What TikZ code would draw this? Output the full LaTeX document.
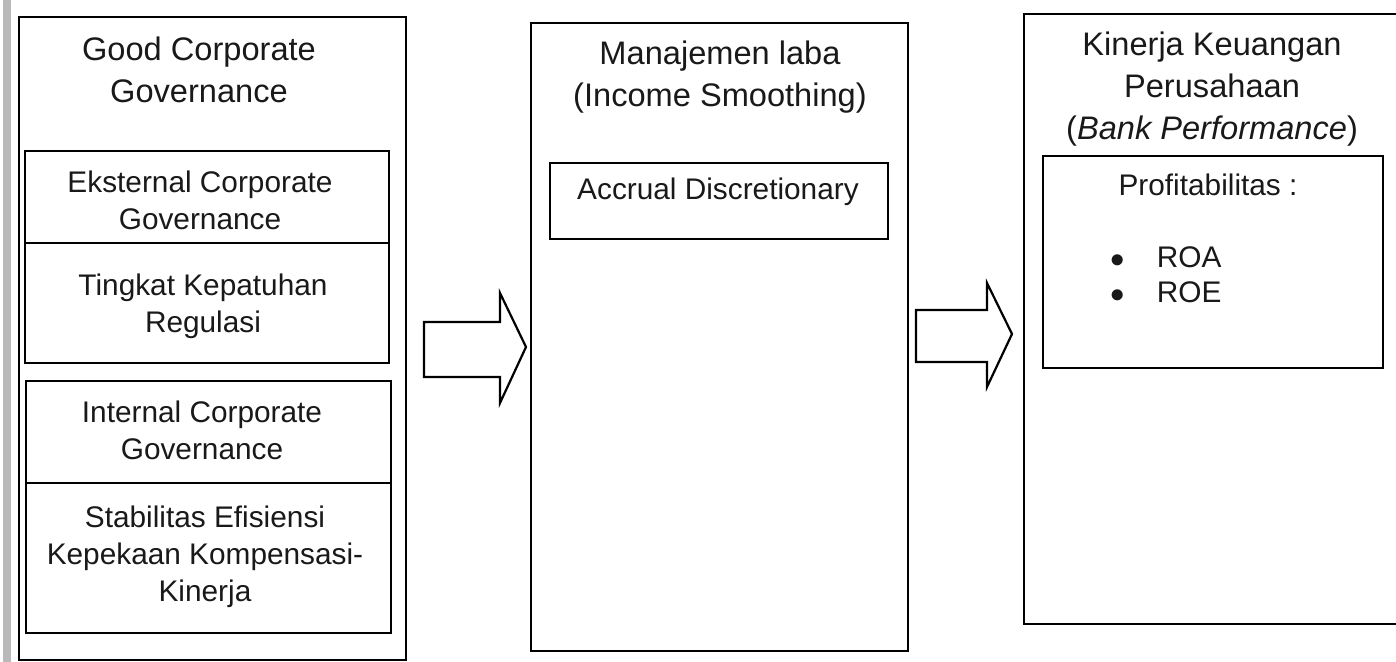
\documentclass[tikz,border=0pt]{standalone}
\usepackage{fontspec}
\setmainfont{Liberation Sans}
\begin{document}
\begin{tikzpicture}[x=0.5pt,y=-0.5pt]
	\tikzstyle{kotak}=[draw,line width=1.1pt,rectangle,inner sep=0pt,anchor=north west]
	\tikzstyle{judul}=[align=center,inner sep=0pt,text=black!90,font=\fontsize{16.3}{21}\selectfont]
	\tikzstyle{isi}=[align=center,inner sep=0pt,text=black!90,font=\fontsize{14.9}{18.5}\selectfont]
	\tikzstyle{butir}=[inner sep=0pt,anchor=base west,text=black!90,font=\fontsize{14.9}{18.5}\selectfont]
	\tikzstyle{panah}=[draw,line width=1.1pt,fill=white,line join=miter]
	\def\Px{0.5pt}
	\useasboundingbox (0,0) rectangle (1396,662);
	\clip (0,0) rectangle (1396,662);
	% tepi hasil pindai
	\fill[gray!55] (3,0) rectangle (11,662);
	% kotak kiri
	\node[kotak,minimum width=387*\Px,minimum height=643*\Px] (GCG) at (18,16) {};
	\node[kotak,minimum width=364*\Px,minimum height=92*\Px] (Eks) at (24,150) {};
	\node[kotak,minimum width=364*\Px,minimum height=120*\Px] (Reg) at (24,242) {};
	\node[kotak,minimum width=365*\Px,minimum height=102*\Px] (Int) at (25,380) {};
	\node[kotak,minimum width=365*\Px,minimum height=150*\Px] (Stab) at (25,482) {};
	\node[judul] (tGCG) at (199,70) {Good Corporate\\Governance};
	\node[isi] (tEks) at (200,200) {Eksternal Corporate\\Governance};
	\node[isi] (tReg) at (203,306) {Tingkat Kepatuhan\\Regulasi};
	\node[isi] (tInt) at (202,430) {Internal Corporate\\Governance};
	\node[isi] (tStab) at (205,557) {Stabilitas Efisiensi\\Kepekaan Kompensasi-\\Kinerja};
	% kotak tengah
	\node[kotak,minimum width=377*\Px,minimum height=628*\Px] (ML) at (530,22) {};
	\node[kotak,minimum width=338*\Px,minimum height=76*\Px] (AD) at (549,162) {};
	\node[judul] (tML) at (720,77) {Manajemen laba\\(Income Smoothing)};
	\node[isi] (tAD) at (718,192) {Accrual Discretionary};
	% kotak kanan
	\node[kotak,minimum width=380*\Px,minimum height=610*\Px] (KK) at (1023,13) {};
	\node[kotak,minimum width=340*\Px,minimum height=212*\Px] (Prof) at (1042,155) {};
	\node[judul] (tKK) at (1212,89) {Kinerja Keuangan\\Perusahaan\\(\textit{Bank Performance})};
	\node[isi] (tProf) at (1208,185) {Profitabilitas :};
	\node[butir] (tROA) at (1110,268) {$\bullet$\hskip 16pt ROA};
	\node[butir] (tROE) at (1110,303) {$\bullet$\hskip 16pt ROE};
	% panah blok
	\coordinate (p1) at (424,349.5);
	\coordinate (p2) at (916,336);
	\draw[panah] (p1) ++(0,-27.5) -- ++(76,0) -- ++(0,-29) -- ++(26,54) -- ++(-26,56) -- ++(0,-26) -- ++(-76,0) -- cycle;
	\draw[panah] (p2) ++(0,-26) -- ++(71,0) -- ++(0,-27) -- ++(25,51) -- ++(-25,53) -- ++(0,-25) -- ++(-71,0) -- cycle;
\end{tikzpicture}
\end{document}
